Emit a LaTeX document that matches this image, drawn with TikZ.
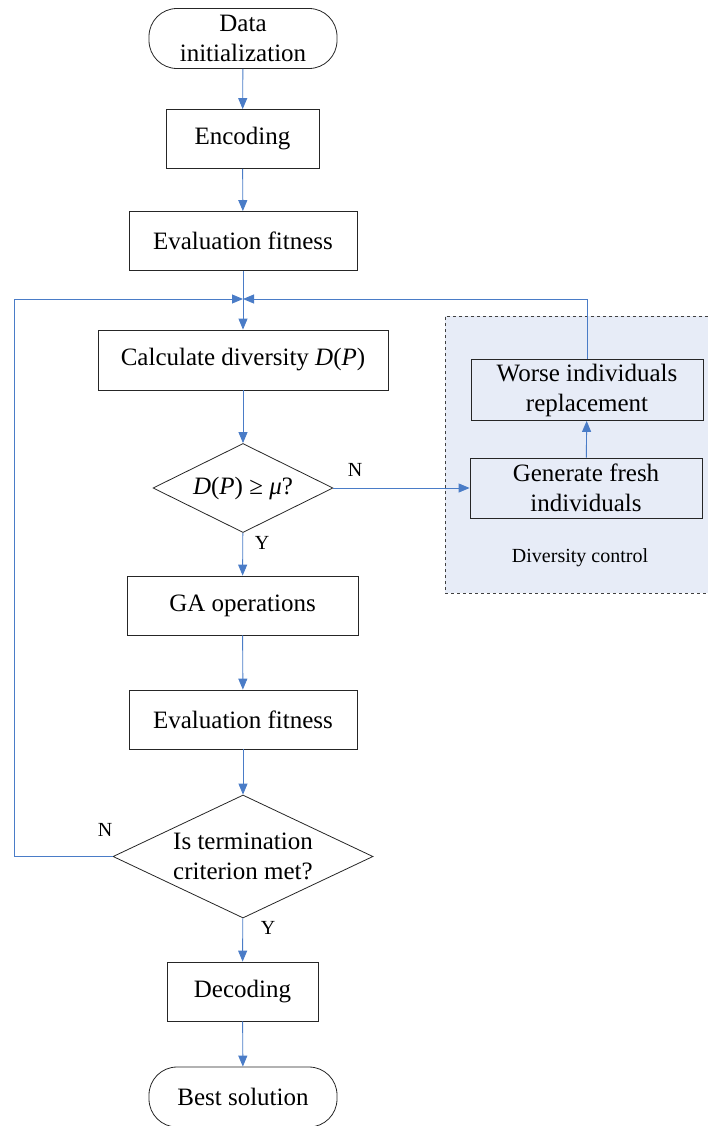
\documentclass[tikz,border=0pt]{standalone}
\usepackage{fontspec}
\setmainfont{Liberation Serif}
\usetikzlibrary{shapes.geometric,arrows.meta}
\definecolor{flowblue}{HTML}{4A7CC7}
\definecolor{dcfill}{HTML}{E7ECF7}
\begin{document}
\begin{tikzpicture}[x=1pt,y=-1pt,
  mainfont/.style={font=\fontsize{25}{30}\selectfont},
  box/.style={draw=black!85,line width=0.8pt,minimum width=#1,minimum height=59pt,inner sep=0pt,align=center,mainfont},
  term/.style={draw=black!85,line width=0.8pt,rounded corners=28pt,minimum width=188pt,minimum height=60pt,inner sep=0pt,align=center,mainfont},
  dec/.style={draw=black!85,line width=0.8pt,diamond,inner sep=0pt},
  lbl/.style={font=\fontsize{20}{24}\selectfont,inner sep=0pt},
  ln/.style={draw=flowblue,line width=0.9pt},
  arr/.style={ln,-{Triangle[length=11pt,width=9pt]}}]
\useasboundingbox (0,0) rectangle (708,1126);
% diversity control region
\node (dc) [draw=black!75,dashed,line width=0.8pt,fill=dcfill,minimum width=266pt,minimum height=277pt,inner sep=0pt] at (578,454.5) {};
\node (dclbl) [font=\fontsize{20}{24}\selectfont] at (580,558) {Diversity control};
% main nodes
\node (init) [term] at (243,38.5) {Data\\initialization};
\node (enc) [box=153pt] at (242.5,139) {Encoding};
\node (eval1) [box=228pt] at (243,241) {Evaluation fitness};
\coordinate (j) at (243,299);
\node (calc) [box=290pt,minimum height=60pt] at (243,360) {Calculate diversity \textit{D}(\textit{P})};
\node (d1) [dec,minimum width=180pt,minimum height=89pt,label={[mainfont]center:\textit{D}(\textit{P}) ≥ \textit{μ}?}] at (243,488) {};
\node (gen) [box=232pt,minimum height=60pt] at (586,488) {Generate fresh\\individuals};
\node (worse) [box=232pt,minimum height=61pt] at (587,390) {Worse individuals\\replacement};
\node (ga) [box=231pt] at (242.5,605.5) {GA operations};
\node (eval2) [box=228pt] at (243,719.5) {Evaluation fitness};
\node (d2) [dec,minimum width=260pt,minimum height=123pt,label={[mainfont,align=center]center:Is termination\\criterion met?}] at (243,856.5) {};
\node (dec) [box=151pt] at (242.5,991.5) {Decoding};
\node (best) [term] at (243,1097) {Best solution};
% labels
\node (n1) [lbl] at (355,470) {N};
\node (y1) [lbl] at (262,543) {Y};
\node (n2) [lbl] at (105,830) {N};
\node (y2) [lbl] at (268,928) {Y};
% connectors
\draw[arr] (init) -- (enc);
\draw[arr] (enc) -- (eval1);
\draw[arr] (eval1) -- (calc);
\draw[arr] (calc) -- (d1);
\draw[arr] (d1.east) -- (gen.west);
\draw[arr] (gen) -- (worse);
\draw[arr] (worse.north) |- (j);
\draw[arr] (d1) -- (ga);
\draw[arr] (ga) -- (eval2);
\draw[arr] (eval2) -- (d2);
\draw[arr] (d2.west) -- (14,856.5) |- (j);
\draw[arr] (d2) -- (dec);
\draw[arr] (dec) -- (best);
\end{tikzpicture}
\end{document}
